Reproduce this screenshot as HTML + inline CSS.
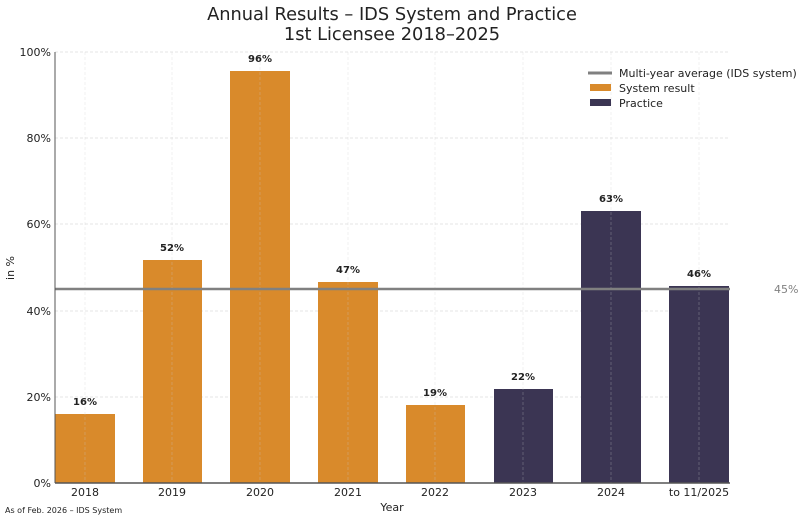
<!DOCTYPE html><html><head><meta charset="utf-8"><style>body{margin:0;background:#fff}svg{display:block;font-family:"DejaVu Sans","Liberation Sans",sans-serif}</style></head><body>
<svg width="800" height="519" viewBox="0 0 800 519">
<text x="392" y="20" font-size="17.8" text-anchor="middle" fill="#222">Annual Results – IDS System and Practice</text>
<text x="392" y="40" font-size="17.8" text-anchor="middle" fill="#222">1st Licensee 2018–2025</text>
<g stroke="#ddd" stroke-dasharray="3,2" stroke-width="0.8">
<line x1="55" x2="730" y1="52" y2="52"/><line x1="55" x2="730" y1="138" y2="138"/><line x1="55" x2="730" y1="224" y2="224"/><line x1="55" x2="730" y1="311" y2="311"/><line x1="55" x2="730" y1="397" y2="397"/>
</g>
<g fill="#d98a2b">
<rect x="55" y="414" width="60" height="69"/><rect x="143" y="260" width="59" height="223"/><rect x="230" y="71" width="60" height="412"/><rect x="318" y="282" width="60" height="201"/><rect x="406" y="405" width="59" height="78"/>
</g>
<g fill="#3b3553">
<rect x="494" y="389" width="59" height="94"/><rect x="581" y="211" width="60" height="272"/><rect x="669" y="286" width="60" height="197"/>
</g>
<g stroke="#ccc" stroke-opacity="0.35" stroke-dasharray="3,2" stroke-width="0.8">
<line x1="85" x2="85" y1="52" y2="483"/><line x1="172" x2="172" y1="52" y2="483"/><line x1="260" x2="260" y1="52" y2="483"/><line x1="348" x2="348" y1="52" y2="483"/><line x1="435" x2="435" y1="52" y2="483"/><line x1="523" x2="523" y1="52" y2="483"/><line x1="611" x2="611" y1="52" y2="483"/><line x1="699" x2="699" y1="52" y2="483"/>
</g>
<line x1="55" x2="730" y1="289" y2="289" stroke="#808080" stroke-width="2.5"/>
<text x="774" y="293" font-size="11" fill="#808080">45%</text>
<line x1="55" x2="55" y1="52" y2="483" stroke="#555" stroke-width="1"/>
<line x1="55" x2="730" y1="483" y2="483" stroke="#555" stroke-width="1.5"/>
<g font-size="11" text-anchor="end" fill="#222">
<text x="51" y="56">100%</text><text x="51" y="142">80%</text><text x="51" y="228">60%</text><text x="51" y="315">40%</text><text x="51" y="401">20%</text><text x="51" y="487">0%</text>
</g>
<g font-size="11" text-anchor="middle" fill="#222">
<text x="85" y="496">2018</text><text x="172" y="496">2019</text><text x="260" y="496">2020</text><text x="348" y="496">2021</text><text x="435" y="496">2022</text><text x="523" y="496">2023</text><text x="611" y="496">2024</text><text x="699" y="496">to 11/2025</text>
<text x="392" y="511">Year</text>
</g>
<text transform="translate(14,268) rotate(-90)" font-size="11" text-anchor="middle" fill="#222">in %</text>
<g font-size="10" font-weight="bold" text-anchor="middle" fill="#222">
<text x="85" y="405">16%</text><text x="172" y="251">52%</text><text x="260" y="62">96%</text><text x="348" y="273">47%</text><text x="435" y="396">19%</text><text x="523" y="380">22%</text><text x="611" y="202">63%</text><text x="699" y="277">46%</text>
</g>
<line x1="588" x2="612" y1="73" y2="73" stroke="#808080" stroke-width="3"/>
<rect x="590" y="84" width="21" height="7" fill="#d98a2b"/>
<rect x="590" y="99" width="21" height="7" fill="#3b3553"/>
<g font-size="11" fill="#222">
<text x="619" y="77">Multi-year average (IDS system)</text><text x="619" y="92">System result</text><text x="619" y="107">Practice</text>
</g>
<text x="5" y="513" font-size="8" fill="#222">As of Feb. 2026 – IDS System</text>
</svg></body></html>
